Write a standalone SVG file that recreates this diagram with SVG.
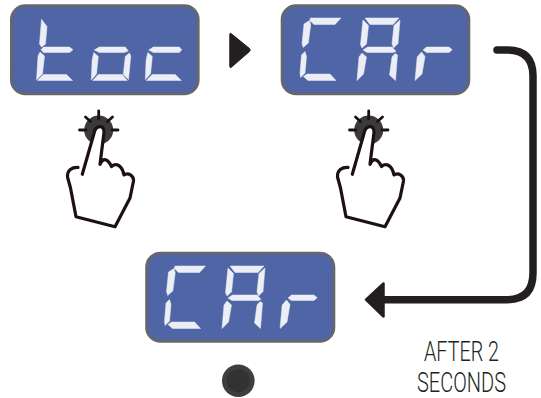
<svg xmlns="http://www.w3.org/2000/svg" width="541" height="398" viewBox="0 0 541 398">
<style>
.panel{fill:#4f65a5;stroke:#676767;stroke-width:2.6}
.seg{fill:#eceef5;stroke:#eceef5;stroke-width:0.5;stroke-linejoin:round}
.hand{fill:#fff;stroke:#1c1010;stroke-width:3.2;stroke-linecap:round;stroke-linejoin:round}
.ray{stroke:#1c1010;stroke-width:2.8;stroke-linecap:round}
.lbl{font-family:"Roboto","Liberation Sans",sans-serif;font-weight:300;font-size:28px;fill:#231f20}
</style>
<defs>
<polygon id="ct" points="10.5,18 41,18 35,24.5 14,24.5 9.8,20.5"/>
<polygon id="cul" points="9.5,20.5 10.7,25 8.3,43 3.2,47.5 2,43.5 4,24"/>
<polygon id="cll" points="5,51.5 6.5,56.5 5,73 0.7,77.5 0,73.5 1.5,55"/>
<polygon id="cb" points="3.5,76.5 7,74 30,74 36,80.5 8,80.5"/>
<g id="C"><use href="#ct"/><use href="#cul"/><use href="#cll"/><use href="#cb"/></g>
<g id="A">
<polygon points="8,18 42,18 36,24.5 13,24.5"/>
<polygon points="6,20 11.5,25.5 9.5,44 5,48 3.5,44.5"/>
<polygon points="43,20 41,43.5 36.5,48 35,43.5 37,25.5"/>
<polygon points="6,50 10.5,47 35,47 39,51.5 36,52.5 10,52.5"/>
<polygon points="5,53 9.5,57 6.5,74 0,80.5 2,57"/>
<polygon points="38,53.5 40.5,55 38.5,80.5 32.5,75 35,57"/>
</g>
<g id="r">
<polygon points="8,50 11.5,47 34,47 37.2,49.7 34,52.5 11.5,52.5"/>
<polygon points="6.5,52 10,56.5 7,74 0,80.5 2.2,57"/>
</g>
<g id="hand">
<circle cx="98.7" cy="130" r="14.5" fill="#3b3a3b"/>
<path class="ray" d="M98.7,111V119M79.5,130H86M112,130H118M85.5,117L90.5,121.5M112.5,117L107.5,121.5"/>
<path class="hand" d="M82.3,174.3L94,133.5C95.5,125 104.5,124 104,132.5L100,164.3C103,157 108,159 111.5,166.5C116,162.5 122,165 124,175C128,172 134,175.5 133.5,181L130,198L115,226.7L76,216.7L70.5,188L67.5,177C67,170 72,167 78,167.3"/>
</g>
</defs>
<g id="display-toc">
<rect class="panel" x="11.3" y="5.5" width="187" height="88.5" rx="14"/>
<g class="seg">
<polygon points="41.5,19.3 47,26.5 45.5,44 41.5,47 39.5,44"/>
<polygon points="41,49.7 43.5,47 69.5,47 73,49.7 69.5,52.5 43.5,52.5"/>
<polygon points="40,52 44.5,56 42.5,74 36.5,80 38,56"/>
<polygon points="37.5,80.5 43.5,74.5 66.5,74.5 72.5,80.5"/>
<g transform="translate(91.3,0)">
<polygon points="3,50 8,47 34,47 37,51 33,52.5 8,52.5"/>
<polygon points="2.5,52.5 7,56.5 5.2,74 0,80 0.8,60"/>
<polygon points="38,53 39.5,56 37.2,79.5 32,74.5 34,56.5"/>
<polygon points="1.5,80.5 7,74.5 31,74.5 36,80.5"/>
</g>
<g transform="translate(145.3,0)">
<polygon points="3.5,50 8,47 34,47 36.5,49.7 34,52.5 8,52.5"/>
<polygon points="2.5,52.5 7,56.5 5.2,74 0,79.5 0.8,60"/>
<polygon points="1,80.5 7,74.5 30,74.5 36,80.5"/>
</g>
</g>
</g>
<g id="display-car-1">
<rect class="panel" x="282" y="5.5" width="187" height="88.5" rx="14"/>
<g class="seg">
<use href="#C" x="300"/><use href="#A" x="357"/><use href="#r" x="415"/>
</g>
</g>
<g id="display-car-2">
<rect class="panel" x="146.5" y="253" width="187.5" height="88.5" rx="14"/>
<g class="seg" transform="translate(0,248)">
<use href="#C" x="164.5"/><use href="#A" x="222"/><use href="#r" x="280"/>
</g>
</g>
<g id="hand-1"><use href="#hand"/></g>
<g id="hand-2"><use href="#hand" x="270"/></g>
<g id="button">
<circle cx="238.3" cy="380.7" r="16.3" fill="#3f3e3f"/>
<circle cx="238.3" cy="380.7" r="11.5" fill="#333132"/>
</g>
<g id="connectors">
<path d="M231,33.5L249.5,48.5Q251,50 249.5,51.5L231,67.5Q229.8,68 229.8,66V34.5Q229.8,32.5 231,33.5Z" fill="#231f20" stroke="#231f20" stroke-width="1" stroke-linejoin="round"/>
<path d="M497,50H507Q533,50 533,76V273Q533,299.7 507,299.7H382" fill="none" stroke="#231f20" stroke-width="7.5" stroke-linecap="round"/>
<polygon points="383.5,283.5 366,299.7 383.5,316.5" fill="#231f20" stroke="#231f20" stroke-width="2.5" stroke-linejoin="round"/>
</g>
<g id="label">
<text class="lbl" x="424" y="361" textLength="75" lengthAdjust="spacingAndGlyphs">AFTER 2</text>
<text class="lbl" x="417" y="391.5" textLength="89" lengthAdjust="spacingAndGlyphs">SECONDS</text>
</g>
</svg>
